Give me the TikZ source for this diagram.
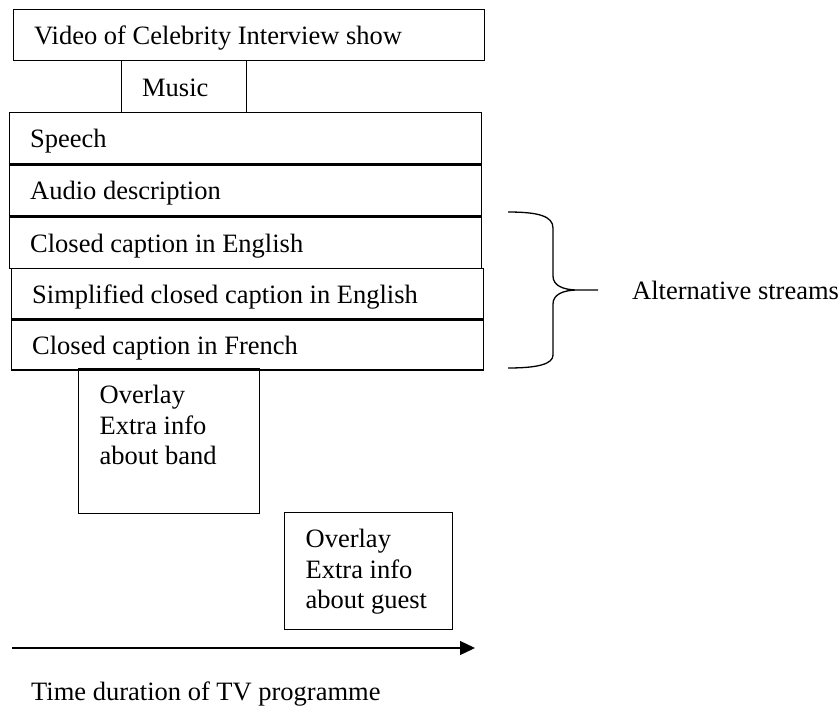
\documentclass[tikz,border=0pt]{standalone}
\usepackage{fontspec}
\setmainfont{Liberation Serif}
\usetikzlibrary{arrows.meta,positioning}

\begin{document}
\begin{tikzpicture}[x=1pt,y=-1pt,node distance=0pt,>={Triangle[length=15pt,width=14pt]},
  lbl/.style={font=\fontsize{26.5}{30.5}\selectfont,inner sep=0pt},
  box/.style={lbl,draw,line width=1.3pt,anchor=north west,inner xsep=20.5pt,inner ysep=0pt,
  minimum height=51pt,text height=19pt,text depth=0pt,align=flush left},
  overlay/.style={box,inner xsep=21pt,inner ysep=17pt,text height=18pt,minimum height=0pt}]
\useasboundingbox (0,0) rectangle (838,707);
\node[box,text width=430pt] (video) at (13,9) {Video of Celebrity Interview show};
\node[box,text width=84pt,minimum height=52pt] (music) at (121,60) {Music};
\node[box,text width=431pt] (speech) at (9,112) {Speech};
\node[box,text width=431pt,below=of speech.south west,anchor=north west] (audio) {Audio description};
\node[box,text width=431pt,below=of audio.south west,anchor=north west] (ccen) {Closed caption in English};
\node[box,text width=431pt,minimum height=50pt] (simple) at (11,268) {Simplified closed caption in English};
\node[box,text width=431pt,minimum height=50pt,below=of simple.south west,anchor=north west] (ccfr) {Closed caption in French};
\node[overlay,text width=139pt,text depth=93pt] (band) at (78,368) {Overlay\\Extra info\\about band};
\node[overlay,text width=126pt,text depth=65pt] (guest) at (284,512) {Overlay\\Extra info\\about guest};
\node[lbl,anchor=base west] (alt) at (632,299) {Alternative streams};
\draw[line width=1.3pt] (508,212) .. controls (538,212) and (553,216) .. (553,228) -- (553,276)
  .. controls (553,285) and (562,290) .. (578,290) -- (598,290) -- (578,290)
  .. controls (562,290) and (553,295) .. (553,304) -- (553,355)
  .. controls (553,364) and (538,368) .. (508,368);
\coordinate (start) at (12,648);
\coordinate (end) at (475,648);
\draw[->,line width=1.3pt] (start) -- (end);
\node[lbl,anchor=base west] (time) at (31,700) {Time duration of TV programme};
\end{tikzpicture}
\end{document}
